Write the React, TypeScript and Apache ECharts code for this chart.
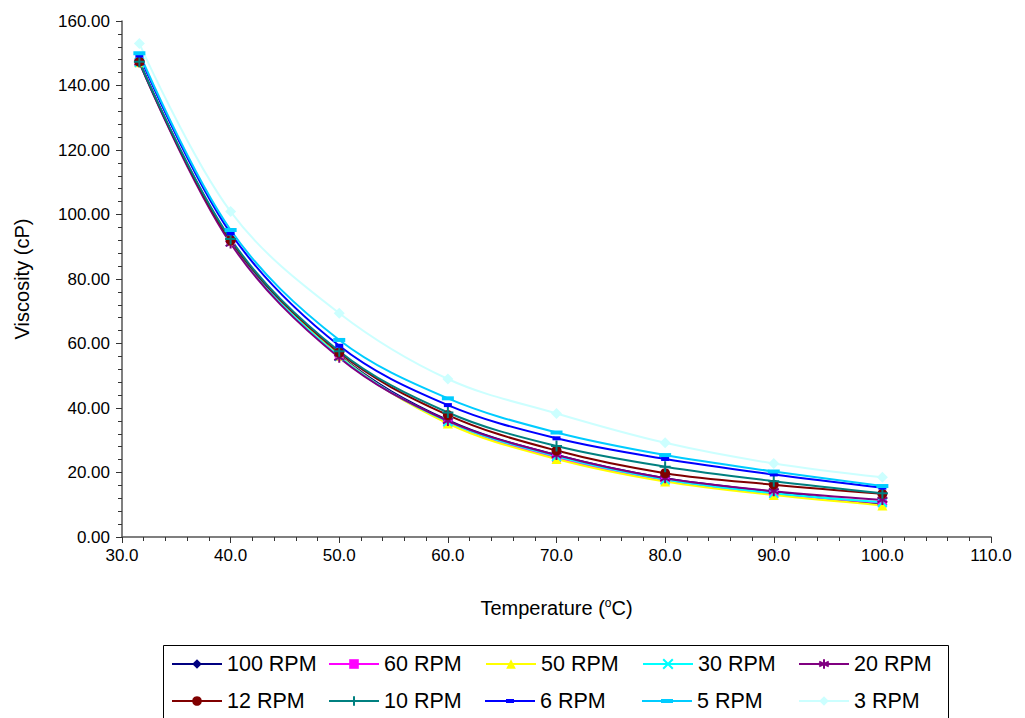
import React, { useEffect, useRef } from "react";
import * as echarts from "echarts";

const temperatures = [31.6, 40, 50, 60, 70, 80, 90, 100];

const rpm100 = [147.3, 91.8, 56.4, 36.2, 25.4, 18.2, 14.0, 10.0];
const rpm60 = [147.2, 91.6, 56.0, 35.6, 24.6, 17.6, 13.4, 10.6];
const rpm50 = [147.2, 91.8, 56.2, 35.2, 24.2, 17.2, 13.0, 9.8];
const rpm30 = [147.2, 91.6, 56.0, 35.8, 25.0, 17.8, 13.6, 10.8];
const rpm20 = [147.2, 91.0, 55.6, 36.0, 25.4, 18.2, 14.2, 11.5];
const rpm12 = [147.4, 92.0, 57.2, 37.8, 26.8, 19.8, 16.2, 13.4];
const rpm10 = [147.4, 92.4, 57.6, 38.6, 28.2, 21.8, 17.3, 13.6];
const rpm6 = [149.3, 94.2, 59.3, 40.9, 30.6, 24.2, 19.4, 15.3];
const rpm5 = [150.0, 95.2, 61.1, 43.0, 32.4, 25.4, 20.3, 15.8];
const rpm3 = [153.0, 100.9, 69.4, 49.0, 38.3, 29.2, 22.8, 18.5];

const seriesNames = ["100 RPM", "60 RPM", "50 RPM", "30 RPM", "20 RPM", "12 RPM", "10 RPM", "6 RPM", "5 RPM", "3 RPM"];
const seriesValues = [rpm100, rpm60, rpm50, rpm30, rpm20, rpm12, rpm10, rpm6, rpm5, rpm3];

const yTicks = [0, 20, 40, 60, 80, 100, 120, 140, 160];

const FONT = "Liberation Sans, Arial, sans-serif";

const styles: any[] = [
  { color: "#000080", symbol: "diamond", size: 10 },
  { color: "#FF00FF", symbol: "rect", size: 9 },
  { color: "#FFFF00", symbol: "triangle", size: 10 },
  { color: "#00FFFF", symbol: "path://M0,0 L10,10 M10,0 L0,10", size: 9, stroke: true },
  { color: "#800080", symbol: "path://M5,0 L5,10 M0.7,2.5 L9.3,7.5 M9.3,2.5 L0.7,7.5", size: 10, stroke: true },
  { color: "#800000", symbol: "circle", size: 10 },
  { color: "#008080", symbol: "path://M5,0 L5,10 M0,5 L10,5", size: 11, stroke: true },
  {
    color: "#0000FF", symbol: "rect", size: [8, 4],
    icon: "path://M0,5 L21,5 L21,4 L29,4 L29,5 L50,5 L50,7 L29,7 L29,8 L21,8 L21,7 L0,7 Z",
  },
  {
    color: "#00CCFF", symbol: "rect", size: [12, 4],
    icon: "path://M0,5 L19,5 L19,4 L31,4 L31,5 L50,5 L50,7 L31,7 L31,8 L19,8 L19,7 L0,7 Z",
  },
  { color: "#CCFFFF", symbol: "diamond", size: 11 },
];

const legendPos = [
  [171, 653], [328, 653], [485, 653], [642, 653], [798, 653],
  [171, 690], [328, 690], [485, 690], [642, 690], [798, 690],
];

export default function App() {
  const ref = useRef<HTMLDivElement>(null);
  useEffect(() => {
    if (!ref.current) return;
    const chart = echarts.init(ref.current, undefined, { renderer: "svg" });
    const series = seriesNames.map((name, i) => {
      const s = styles[i];
      return {
        name,
        type: "line",
        smooth: 0.35,
        data: temperatures.map((t, j) => [t, seriesValues[i][j]]),
        symbol: s.symbol,
        symbolSize: s.size,
        lineStyle: { color: s.color, width: 2 },
        itemStyle: s.stroke
          ? { color: s.color, borderColor: s.color, borderWidth: 2 }
          : { color: s.color, borderWidth: 0 },
        emphasis: { disabled: true },
      };
    });
    const legends = seriesNames.map((name, i) => ({
      show: true,
      data: [styles[i].icon ? { name, icon: styles[i].icon } : name],
      left: legendPos[i][0],
      top: legendPos[i][1],
      orient: "horizontal",
      itemWidth: 50,
      itemHeight: 12,
      itemGap: 0,
      padding: 0,
      symbolKeepAspect: true,
      selectedMode: false,
      textStyle: { fontFamily: FONT, fontSize: 21.5, color: "#000" },
    }));
    chart.setOption({
      animation: false,
      backgroundColor: "#fff",
      grid: { left: 122, right: 34, top: 21, bottom: 181 },
      xAxis: {
        type: "value",
        min: 30,
        max: 110,
        interval: 10,
        name: "Temperature ({sup|o}C)",
        nameLocation: "middle",
        nameGap: 60,
        nameTextStyle: {
          fontFamily: FONT,
          fontSize: 20,
          color: "#000",
          rich: { sup: { fontFamily: FONT, fontSize: 12, color: "#000", verticalAlign: "top", padding: [0, 0, 10, 0] } },
        },
        axisLine: { show: true, onZero: false, lineStyle: { color: "#555", width: 1.5 } },
        axisTick: { show: true, length: 6, lineStyle: { color: "#333" } },
        minorTick: { show: true, splitNumber: 5, length: 4, lineStyle: { color: "#333" } },
        splitLine: { show: false },
        axisLabel: {
          fontFamily: FONT,
          fontSize: 17,
          color: "#000",
          margin: 10,
          formatter: (v: number) => v.toFixed(1),
        },
      },
      yAxis: {
        type: "value",
        min: yTicks[0],
        max: yTicks[yTicks.length - 1],
        interval: 20,
        name: "Viscosity (cP)",
        nameLocation: "middle",
        nameGap: 90,
        nameTextStyle: { fontFamily: FONT, fontSize: 20, color: "#000" },
        axisLine: { show: true, lineStyle: { color: "#555", width: 1.5 } },
        axisTick: { show: true, length: 6, lineStyle: { color: "#333" } },
        minorTick: { show: true, splitNumber: 5, length: 4, lineStyle: { color: "#333" } },
        splitLine: { show: false },
        axisLabel: {
          fontFamily: FONT,
          fontSize: 17,
          color: "#000",
          margin: 12,
          formatter: (v: number) => v.toFixed(2),
        },
      },
      legend: legends,
      graphic: [
        {
          type: "rect",
          shape: { x: 163.5, y: 645.5, width: 785, height: 90 },
          style: { fill: "none", stroke: "#000", lineWidth: 1 },
          silent: true,
        },
      ],
      series,
    });
    return () => chart.dispose();
  }, []);
  return <div ref={ref} style={{ position: "fixed", left: 0, top: 0, width: 1025, height: 718 }} />;
}
